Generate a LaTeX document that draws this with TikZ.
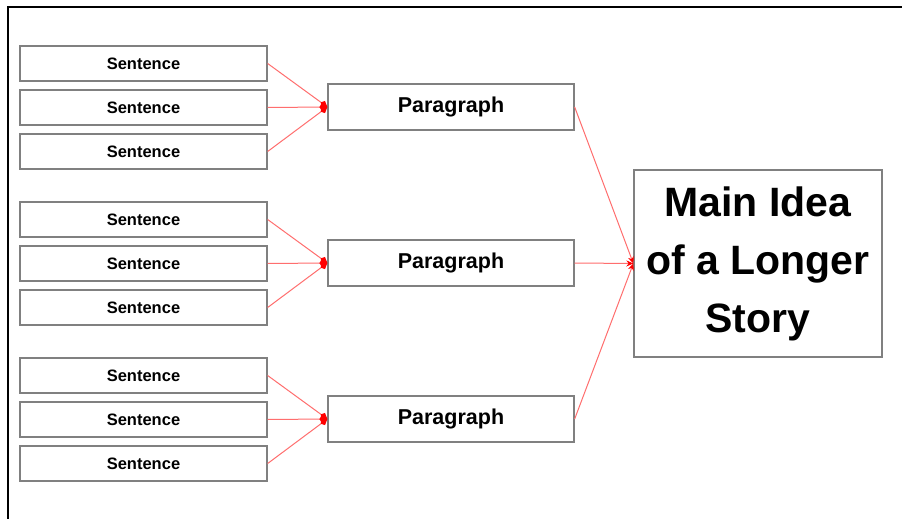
\documentclass[tikz,border=0pt]{standalone}
\usepackage{fontspec}
\setmainfont{Liberation Sans}
\usetikzlibrary{arrows.meta}
\begin{document}
\begin{tikzpicture}[x=1pt,y=-1pt,
  box/.style={draw=boxgray,line width=1.3pt,fill=white,inner sep=0pt,font=\bfseries},
  sent/.style={box,minimum width=247pt,minimum height=35pt,font=\bfseries\fontsize{16.5}{18}\selectfont},
  para/.style={box,minimum width=246pt,minimum height=46pt,font=\bfseries\fontsize{21.5}{24}\selectfont},
  mainbox/.style={box,minimum width=248pt,minimum height=187pt,align=center,font=\bfseries\fontsize{41}{58}\selectfont},
  feed/.style={draw=linered,line width=1pt,-{Kite[length=8pt,width=7pt,inset=2.5pt,color=red,fill=red]}},
  lead/.style={draw=linered,line width=1pt,-{Stealth[length=7pt,width=6pt,color=red,fill=red]}}]
\definecolor{boxgray}{RGB}{128,128,128}
\definecolor{linered}{RGB}{255,110,110}
\useasboundingbox (0,0) rectangle (902,519);
\fill[white] (0,0) rectangle (902,519);
% frame
\draw[line width=2.6pt,black] (8,519) -- (8,7) -- (902,7);
% sentences
\node[sent] (s1) at (143.5,63.5) {\raisebox{-1pt}{Sentence}};
\node[sent] (s2) at (143.5,107.5) {\raisebox{-1pt}{Sentence}};
\node[sent] (s3) at (143.5,151.5) {\raisebox{-1pt}{Sentence}};
\node[sent] (s4) at (143.5,219.5) {\raisebox{-1pt}{Sentence}};
\node[sent] (s5) at (143.5,263.5) {\raisebox{-1pt}{Sentence}};
\node[sent] (s6) at (143.5,307.5) {\raisebox{-1pt}{Sentence}};
\node[sent] (s7) at (143.5,375.5) {\raisebox{-1pt}{Sentence}};
\node[sent] (s8) at (143.5,419.5) {\raisebox{-1pt}{Sentence}};
\node[sent] (s9) at (143.5,463.5) {\raisebox{-1pt}{Sentence}};
% paragraphs
\node[para] (p1) at (451,107) {\raisebox{-1.5pt}{Paragraph}};
\node[para] (p2) at (451,263) {\raisebox{-1.5pt}{Paragraph}};
\node[para] (p3) at (451,419) {\raisebox{-1.5pt}{Paragraph}};
% main
\node[mainbox] (m) at (758,263.5) {\raisebox{-3pt}{\parbox{240pt}{\centering Main Idea\\of a Longer\\Story}}};
% connectors
\foreach \s/\p in {s1/p1,s2/p1,s3/p1,s4/p2,s5/p2,s6/p2,s7/p3,s8/p3,s9/p3}
  \draw[feed] (\s.east) -- (\p.west);
\foreach \p in {p1,p2,p3}
  \draw[lead] (\p.east) -- (m.west);
\end{tikzpicture}
\end{document}
